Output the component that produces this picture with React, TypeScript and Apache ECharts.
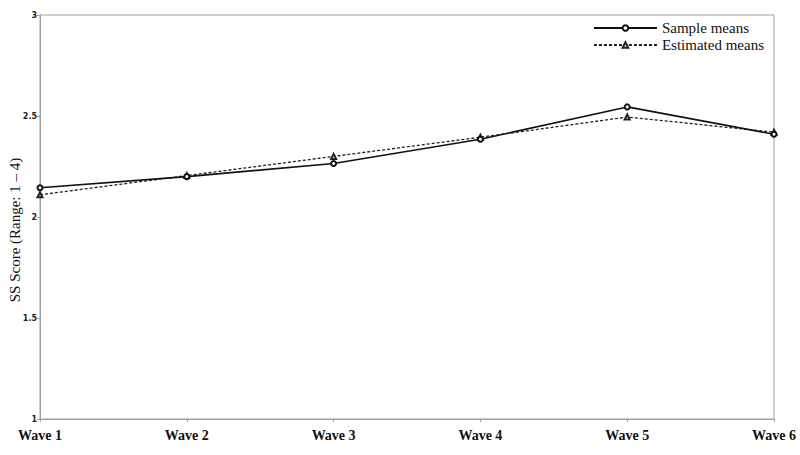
import React, { useEffect, useRef } from "react";
import * as echarts from "echarts";

const categories = ["Wave 1", "Wave 2", "Wave 3", "Wave 4", "Wave 5", "Wave 6"];
const sampleMeans = [2.145, 2.2, 2.265, 2.385, 2.545, 2.41];
const estimatedMeans = [2.11, 2.205, 2.3, 2.395, 2.495, 2.42];
const yTicks = { min: 1, max: 3, interval: 0.5 };
const yAxisTitle = "SS Score (Range: 1 \u2013 4)";

export default function App() {
  const ref = useRef<HTMLDivElement>(null);
  useEffect(() => {
    const chart = echarts.init(ref.current!, null, { renderer: "svg" });
    chart.setOption({
      animation: false,
      backgroundColor: "#fff",
      grid: {
        left: 40,
        right: 26,
        top: 15,
        bottom: 36,
        show: true,
        borderColor: "#a0a0a0",
        borderWidth: 1,
        containLabel: false,
        outerBoundsMode: "none",
      },
      legend: {
        orient: "vertical",
        right: 31,
        top: 15,
        itemWidth: 63,
        itemHeight: 7,
        itemGap: 1,
        textStyle: {
          fontFamily: "Liberation Serif",
          fontSize: 15,
          lineHeight: 16,
          color: "#111",
        },
        data: ["Sample means", "Estimated means"],
      },
      graphic: [
        {
          type: "text",
          x: 15,
          y: 230,
          rotation: Math.PI / 2,
          style: {
            text: yAxisTitle,
            fontFamily: "Liberation Serif",
            fontSize: 15,
            fill: "#111",
            align: "center",
            verticalAlign: "middle",
          },
        },
      ],
      xAxis: {
        type: "category",
        data: categories,
        boundaryGap: false,
        axisLine: { lineStyle: { color: "#a0a0a0", width: 1 } },
        axisTick: { show: true, length: 3, alignWithLabel: true, lineStyle: { color: "#a0a0a0" } },
        axisLabel: {
          fontFamily: "Liberation Serif",
          fontWeight: "bold",
          fontSize: 14,
          color: "#111",
          margin: 9,
          hideOverlap: false,
        },
        splitLine: { show: false },
      },
      yAxis: {
        type: "value",
        min: yTicks.min,
        max: yTicks.max,
        interval: yTicks.interval,
        axisLine: { show: true, lineStyle: { color: "#a0a0a0", width: 1 } },
        axisTick: { show: true, length: 3, lineStyle: { color: "#a0a0a0" } },
        axisLabel: {
          fontFamily: "DejaVu Sans",
          fontWeight: "bold",
          fontSize: 8,
          color: "#222",
          margin: 3,
        },
        splitLine: { show: false },
      },
      series: [
        {
          name: "Sample means",
          type: "line",
          data: sampleMeans,
          symbol: "emptyCircle",
          symbolSize: 5,
          lineStyle: { color: "#111", width: 1.6, type: "solid" },
          itemStyle: { color: "#111", borderColor: "#111", borderWidth: 1 },
          z: 3,
        },
        {
          name: "Estimated means",
          type: "line",
          data: estimatedMeans,
          symbol: "emptyTriangle",
          symbolSize: 5,
          lineStyle: { color: "#222", width: 1.3, type: [3, 2] },
          itemStyle: { color: "#222", borderColor: "#222", borderWidth: 1 },
          z: 2,
        },
      ],
    });
    return () => chart.dispose();
  }, []);
  return (
    <div
      ref={ref}
      style={{ position: "fixed", left: 0, top: 0, width: 800, height: 455, background: "#fff" }}
    />
  );
}
